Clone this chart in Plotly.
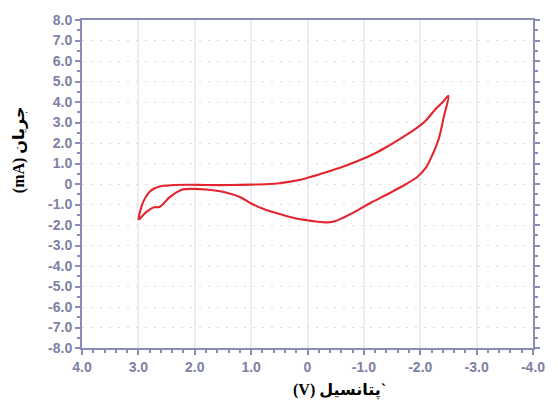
import plotly.graph_objects as go

# Cyclic voltammogram: forward scan (3.0 V -> -2.5 V) then reverse scan back to 3.0 V
v_forward = [3.0, 2.98, 2.95, 2.91, 2.86, 2.80, 2.72, 2.62, 2.50, 2.36, 2.10, 1.80,
             1.37, 1.00, 0.70, 0.50, 0.30, 0.10, 0.00, -0.30, -0.65, -0.88, -1.20,
             -1.46, -1.70, -1.92, -2.10, -2.27, -2.40, -2.50]
i_forward = [-1.75, -1.45, -1.15, -0.85, -0.60, -0.38, -0.22, -0.12, -0.08, -0.05,
             -0.04, -0.05, -0.05, -0.03, 0.00, 0.04, 0.12, 0.22, 0.30, 0.55, 0.87,
             1.11, 1.50, 1.90, 2.30, 2.70, 3.10, 3.65, 4.00, 4.30]

v_reverse = [-2.50, -2.42, -2.33, -2.22, -2.10, -1.95, -1.75, -1.45, -1.17, -1.00,
             -0.88, -0.65, -0.50, -0.36, -0.15, 0.00, 0.20, 0.45, 0.80, 1.00, 1.20,
             1.55, 1.80, 2.01, 2.24, 2.44, 2.62, 2.73, 2.85, 2.99]
i_reverse = [4.30, 3.30, 2.22, 1.45, 0.80, 0.35, 0.00, -0.45, -0.85, -1.10, -1.30,
             -1.62, -1.80, -1.87, -1.83, -1.77, -1.68, -1.50, -1.19, -0.95, -0.63,
             -0.35, -0.27, -0.24, -0.29, -0.63, -1.11, -1.14, -1.35, -1.75]

x_ticks = [4, 3, 2, 1, 0, -1, -2, -3, -4]
x_tick_labels = ["4.0", "3.0", "2.0", "1.0", "0", "-1.0", "-2.0", "-3.0", "-4.0"]
y_ticks = [8, 7, 6, 5, 4, 3, 2, 1, 0, -1, -2, -3, -4, -5, -6, -7, -8]
y_tick_labels = ["8.0", "7.0", "6.0", "5.0", "4.0", "3.0", "2.0", "1.0", "0",
                 "-1.0", "-2.0", "-3.0", "-4.0", "-5.0", "-6.0", "-7.0", "-8.0"]

x_title = "\u202B`پتانسیل (V)\u202C"
y_title = "\u202Bجریان (mA)\u202C"

axis_col = "#8a8eb6"
tick_font = dict(family="Liberation Sans, Arial", size=14, color="#7d81a3", weight="bold")
title_font = dict(family="Liberation Serif, DejaVu Sans", size=16, color="#000000", weight="bold")

fig = go.Figure()
fig.add_trace(go.Scatter(
    x=v_forward + v_reverse[1:],
    y=i_forward + i_reverse[1:],
    mode="lines",
    line=dict(color="#e2262f", width=2.1, shape="spline", smoothing=1.0),
    showlegend=False,
    hoverinfo="skip",
))

fig.update_xaxes(
    range=[4, -4],
    tickvals=x_ticks, ticktext=x_tick_labels, tickfont=tick_font,
    showline=True, linecolor=axis_col, linewidth=2, mirror=True,
    ticks="outside", ticklen=5, tickcolor=axis_col, tickwidth=1.5,
    minor=dict(dtick=0.2, ticks="outside", ticklen=3, tickcolor=axis_col, showgrid=False),
    showgrid=True, gridcolor="#ececf2", gridwidth=1.5,
    zeroline=False,
)
fig.update_yaxes(
    range=[-8, 8],
    tickvals=y_ticks, ticktext=y_tick_labels, tickfont=tick_font,
    showline=True, linecolor=axis_col, linewidth=2, mirror="ticks",
    ticks="outside", ticklen=5, tickcolor=axis_col, tickwidth=1.5,
    minor=dict(dtick=0.5, ticks="outside", ticklen=3, tickcolor=axis_col, showgrid=False),
    showgrid=True, gridcolor="#dcdccf", gridwidth=1, griddash="2px,7px",
    zeroline=False,
)

fig.add_annotation(
    text=x_title, xref="paper", yref="paper", x=0.5705, y=-0.131,
    showarrow=False, font=title_font, xanchor="center", yanchor="middle",
)
fig.add_annotation(
    text=y_title, xref="paper", yref="paper", x=-0.139, y=0.604,
    showarrow=False, font=title_font, textangle=-90, xanchor="center", yanchor="middle",
)

fig.update_layout(
    width=557, height=406,
    margin=dict(l=82, r=14, t=12, b=58),
    paper_bgcolor="#ffffff", plot_bgcolor="#ffffff",
)

fig.write_html("out.html")
